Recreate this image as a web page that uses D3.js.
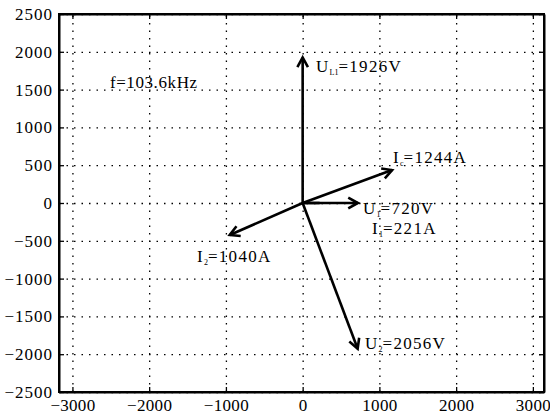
<!DOCTYPE html>
<html>
<head>
<meta charset="utf-8">
<script src="https://cdn.jsdelivr.net/npm/d3@7"></script>
<style>
body { margin: 0; background: #fff; }
text { font-family: "Liberation Serif", "Times New Roman", serif; fill: #000; }
</style>
</head>
<body>
<script>
var w = 550;
var h = 418;

// tick values
var xTicks = [-3000, -2000, -1000, 0, 1000, 2000, 3000];
var yTicks = [2500, 2000, 1500, 1000, 500, 0, -500, -1000, -1500, -2000, -2500];

// phasors (magnitude, angle in degrees)
var names = ["U_L1", "I_c", "U_1", "I_1", "I_2", "U_2"];
var mags = [1926, 1244, 720, 221, 1040, 2056];
var angles = [90, 20.5, 0, 0, 204, -69.6];
var heads = [true, true, true, false, true, true];

// labels: main letter, subscript, value text, start point (data units)
var labMain = ["U", "I", "U", "I", "I", "U"];
var labSub = ["L1", "c", "1", "1", "2", "2"];
var labVal = ["=1926V", "=1244A", "=720V", "=221A", "=1040A", "=2056V"];
var labX = [173, 1177, 786, 903, -1377, 812];
var labY = [1733, 529, -145, -410, -780, -1931];

var margin = {left: 59, right: 6, top: 14, bottom: 26};

var xScale = d3.scaleLinear()
    .domain([-3175, 3145])
    .range([margin.left, w - margin.right]);

var yScale = d3.scaleLinear()
    .domain([-2500, 2500])
    .range([h - margin.bottom, margin.top]);

var pw = w - margin.left - margin.right;
var ph = h - margin.top - margin.bottom;

var svg = d3.select("body")
    .append("svg")
    .attr("width", w)
    .attr("height", h);

// grid
svg.append("g")
    .attr("transform", "translate(0," + (h - margin.bottom) + ")")
    .call(d3.axisBottom(xScale).tickValues(xTicks).tickSize(-ph).tickFormat(""))
    .call(function(g) {
        g.select(".domain").remove();
        g.selectAll("line").attr("stroke", "#000").attr("stroke-width", 1.3).attr("stroke-dasharray", "1.5,6");
    });

svg.append("g")
    .attr("transform", "translate(" + margin.left + ",0)")
    .call(d3.axisLeft(yScale).tickValues(yTicks).tickSize(-pw).tickFormat(""))
    .call(function(g) {
        g.select(".domain").remove();
        g.selectAll("line").attr("stroke", "#000").attr("stroke-width", 1.3).attr("stroke-dasharray", "1.5,6");
    });

// axes with inside ticks
var fmt = d3.format("d");
var xAxis = svg.append("g")
    .attr("transform", "translate(0," + (h - margin.bottom) + ")")
    .call(d3.axisBottom(xScale).tickValues(xTicks).tickFormat(fmt).tickSizeInner(-5).tickSizeOuter(0).tickPadding(7));

var xAxisTop = svg.append("g")
    .attr("transform", "translate(0," + margin.top + ")")
    .call(d3.axisTop(xScale).tickValues(xTicks).tickSizeInner(-5).tickSizeOuter(0).tickFormat(""));

var yAxis = svg.append("g")
    .attr("transform", "translate(" + margin.left + ",0)")
    .call(d3.axisLeft(yScale).tickValues(yTicks).tickFormat(fmt).tickSizeInner(-5).tickSizeOuter(0).tickPadding(6));

var yAxisRight = svg.append("g")
    .attr("transform", "translate(" + (w - margin.right) + ",0)")
    .call(d3.axisRight(yScale).tickValues(yTicks).tickSizeInner(-5).tickSizeOuter(0).tickFormat(""));

[xAxis, xAxisTop, yAxis, yAxisRight].forEach(function(g) {
    g.select(".domain").attr("stroke", "#000").attr("stroke-width", 2);
    g.selectAll(".tick line").attr("stroke", "#000").attr("stroke-width", 1.3);
    g.selectAll("text")
        .attr("font-size", 17)
        .attr("letter-spacing", 1)
        .attr("font-family", "Liberation Serif")
        .attr("fill", "#000");
});
xAxis.selectAll("text").attr("letter-spacing", 0.3);

// frame
svg.append("rect")
    .attr("x", margin.left)
    .attr("y", margin.top)
    .attr("width", pw)
    .attr("height", ph)
    .attr("fill", "none")
    .attr("stroke", "#000")
    .attr("stroke-width", 2);

// phasors
var ox = xScale(0), oy = yScale(0);
var vec = names.map(function(n, i) {
    var a = angles[i] * Math.PI / 180;
    return {x: mags[i] * Math.cos(a), y: mags[i] * Math.sin(a), head: heads[i]};
});

var arrows = svg.append("g");
vec.forEach(function(v) {
    var tx = xScale(v.x), ty = yScale(v.y);
    arrows.append("line")
        .attr("x1", ox).attr("y1", oy)
        .attr("x2", tx).attr("y2", ty)
        .attr("stroke", "#000")
        .attr("stroke-width", 2.6);
    if (v.head) {
        var ang = Math.atan2(ty - oy, tx - ox);
        var len = 11, spread = 0.5;
        var p = "M" + (tx - len * Math.cos(ang - spread)) + "," + (ty - len * Math.sin(ang - spread)) +
                "L" + tx + "," + ty +
                "L" + (tx - len * Math.cos(ang + spread)) + "," + (ty - len * Math.sin(ang + spread));
        arrows.append("path")
            .attr("d", p)
            .attr("fill", "none")
            .attr("stroke", "#000")
            .attr("stroke-width", 2.6)
            .attr("stroke-linejoin", "miter");
    }
});

// labels
names.forEach(function(n, i) {
    var t = svg.append("text")
        .attr("x", xScale(labX[i]))
        .attr("y", yScale(labY[i]))
        .attr("font-size", 17)
        .attr("letter-spacing", 1.3);
    t.append("tspan").text(labMain[i]);
    t.append("tspan").attr("font-size", 8).attr("letter-spacing", 0).attr("dy", 3).text(labSub[i]);
    t.append("tspan").attr("dy", -3).text(labVal[i]);
});

svg.append("text")
    .attr("x", xScale(-2512))
    .attr("y", yScale(1521))
    .attr("font-size", 17)
    .attr("letter-spacing", 0.6)
    .text("f=103.6kHz");
</script>
</body>
</html>
